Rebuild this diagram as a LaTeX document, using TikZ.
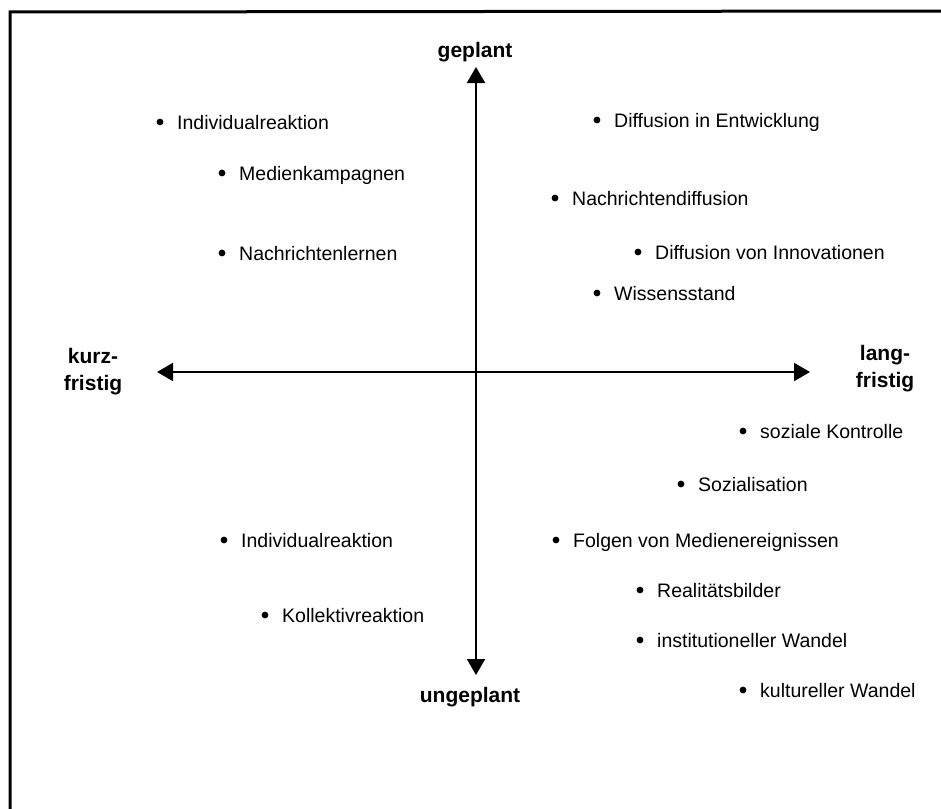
\documentclass[tikz,border=0pt]{standalone}
\usepackage{fontspec}
\setmainfont{Liberation Sans}
\usetikzlibrary{arrows.meta}
\begin{document}
\begin{tikzpicture}[x=1pt,y=-1pt,
  frame/.style={line width=3pt,line cap=rect},
  axis/.style={line width=2pt,-{Triangle[length=16pt,width=18pt]},shorten >=0pt},
  pole/.style={font=\fontsize{21}{27}\selectfont\bfseries,inner sep=0pt,align=center},
  item/.style={font=\fontsize{19.5}{23}\selectfont,inner sep=0pt,anchor=base west},
  dot/.style={fill=black,draw=none}]
  \useasboundingbox (0,0) rectangle (941,808);
  \clip (0,0) rectangle (941,808);
  \fill[white] (0,0) rectangle (941,808);

  % open frame: left and top edges
  \draw[frame] (10,830) -- (10,12) -- (960,11);

  % axis ends and pole labels
  \coordinate (c) at (476,372);
  \coordinate (top) at (476,67);
  \coordinate (bot) at (476,675);
  \coordinate (lft) at (157,372);
  \coordinate (rgt) at (810,372);
  \draw[axis] (c) -- (top);
  \draw[axis] (c) -- (bot);
  \draw[axis] (c) -- (lft);
  \draw[axis] (c) -- (rgt);

  \node[pole,anchor=base] (geplant) at (475,57) {geplant};
  \node[pole,anchor=base] (ungeplant) at (470,702) {ungeplant};
  \node[pole] (kurz) at (93,372) {kurz-\\fristig};
  \node[pole] (lang) at (885,369) {lang-\\fristig};

  % bullet items: text x, baseline y, name, text
  \foreach \tx/\by/\nm/\txt in {
      177/129/ira/Individualreaktion,
      239/180/mk/Medienkampagnen,
      239/260/nl/Nachrichtenlernen,
      614/127/die/Diffusion in Entwicklung,
      572/205/nd/Nachrichtendiffusion,
      655/259/dvi/Diffusion von Innovationen,
      614/300/ws/Wissensstand,
      760/438/sk/soziale Kontrolle,
      698/491/soz/Sozialisation,
      573/547/fm/Folgen von Medienereignissen,
      657/597/rb/Realitätsbilder,
      657/647/iw/institutioneller Wandel,
      760/697/kw/kultureller Wandel,
      241/547/irb/Individualreaktion,
      282/622/kr/Kollektivreaktion} {
    \node[item] (\nm) at (\tx,\by) {\txt};
    \fill[dot] (\tx-17,\by-7) circle (3.4);
  }
\end{tikzpicture}
\end{document}
